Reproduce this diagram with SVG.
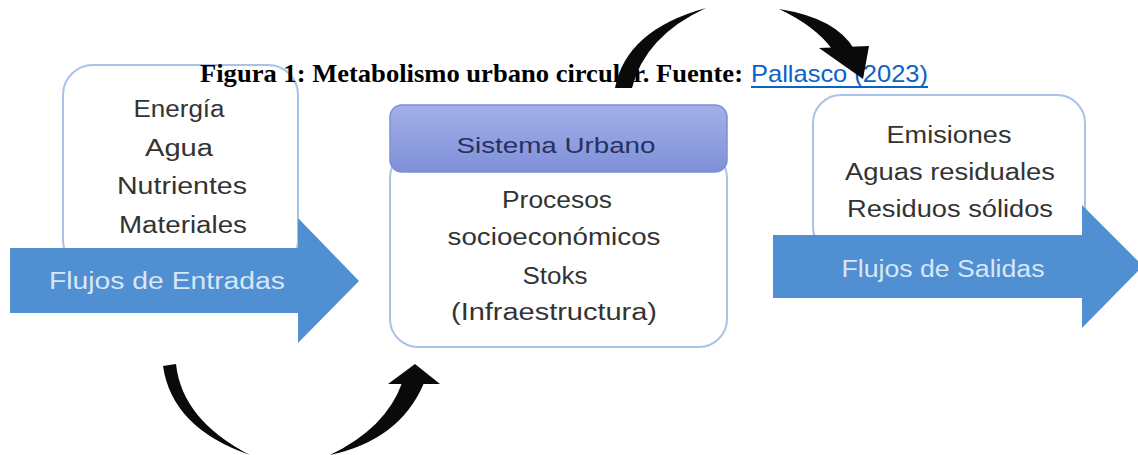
<svg xmlns="http://www.w3.org/2000/svg" width="1138" height="455" viewBox="0 0 1138 455">
<defs>
<linearGradient id="hdr" x1="0" y1="0" x2="0" y2="1">
<stop offset="0" stop-color="#a3b0ea"/>
<stop offset="1" stop-color="#7f90d8"/>
</linearGradient>
</defs>
<style>
.box{fill:#ffffff;stroke:#a9c3e6;stroke-width:2}
.flow{fill:#4f8fd2}
.t{font-family:"Liberation Sans",Arial,sans-serif;font-size:23px;fill:#333333;text-anchor:middle}
.ft{font-family:"Liberation Sans",Arial,sans-serif;font-size:23px;fill:#d9e6f6;text-anchor:middle}
.hd{font-family:"Liberation Sans",Arial,sans-serif;font-size:22px;fill:#27315f;text-anchor:middle}
.ttl{font-family:"Liberation Serif","Times New Roman",serif;font-weight:bold;font-size:26px;fill:#000}
.lnk{font-family:"Liberation Sans",Arial,sans-serif;font-size:24px;fill:#0b63c4}
.blk{fill:#0a0a0a}
</style>
<rect width="1138" height="455" fill="#ffffff"/>

<g id="node-inputs">
<rect class="box" x="63" y="65" width="235" height="205" rx="30"/>
<text class="t" x="179" y="117" textLength="91" lengthAdjust="spacingAndGlyphs">Energía</text>
<text class="t" x="179" y="156" textLength="68" lengthAdjust="spacingAndGlyphs">Agua</text>
<text class="t" x="182" y="194" textLength="130" lengthAdjust="spacingAndGlyphs">Nutrientes</text>
<text class="t" x="183" y="233" textLength="128" lengthAdjust="spacingAndGlyphs">Materiales</text>
<polygon class="flow" points="10,248 298,248 298,218 359,281 298,343 298,313 10,313"/>
<text class="ft" x="167" y="289" textLength="236" lengthAdjust="spacingAndGlyphs">Flujos de Entradas</text>
</g>

<g id="node-system">
<rect class="box" x="390" y="150" width="337" height="197" rx="28"/>
<rect x="390" y="105" width="337" height="67" rx="12" fill="url(#hdr)" stroke="#7d8ed2" stroke-width="1.5"/>
<text class="hd" x="556" y="153" textLength="199" lengthAdjust="spacingAndGlyphs">Sistema Urbano</text>
<text class="t" x="557" y="208" textLength="110" lengthAdjust="spacingAndGlyphs">Procesos</text>
<text class="t" x="554" y="245" textLength="213" lengthAdjust="spacingAndGlyphs">socioeconómicos</text>
<text class="t" x="555" y="284" textLength="65" lengthAdjust="spacingAndGlyphs">Stoks</text>
<text class="t" x="554" y="320" textLength="206" lengthAdjust="spacingAndGlyphs">(Infraestructura)</text>
</g>

<g id="node-outputs">
<rect class="box" x="813" y="95" width="272" height="160" rx="28"/>
<text class="t" x="949" y="143" textLength="125" lengthAdjust="spacingAndGlyphs">Emisiones</text>
<text class="t" x="950" y="180" textLength="210" lengthAdjust="spacingAndGlyphs">Aguas residuales</text>
<text class="t" x="950" y="217" textLength="206" lengthAdjust="spacingAndGlyphs">Residuos sólidos</text>
<polygon class="flow" points="773,235 1082,235 1082,205 1143,266 1082,328 1082,298 773,298"/>
<text class="ft" x="943" y="277" textLength="203" lengthAdjust="spacingAndGlyphs">Flujos de Salidas</text>
</g>

<g id="title">
<text class="ttl" x="200" y="82" textLength="543" lengthAdjust="spacingAndGlyphs">Figura 1: Metabolismo urbano circular. Fuente:</text>
<text class="lnk" x="751" y="82" textLength="177" lengthAdjust="spacingAndGlyphs">Pallasco (2023)</text>
<rect x="751" y="86" width="177" height="2" fill="#0b63c4"/>
</g>

<g id="connectors">
<path class="blk" d="M615,88 Q626,30 706,8 Q645,36 632,88 Z"/>
<path class="blk" d="M779,9 Q836,18 854,49 L832,49 Q815,26 779,9 Z"/>
<polygon class="blk" points="819,48 869,46 863,79"/>
<path class="blk" d="M163,366 Q172,428 250,455 Q182,420 176,364 Z"/>
<path class="blk" d="M330,455 Q400,440 424,383 L402,383 Q386,428 330,455 Z"/>
<polygon class="blk" points="388,384 415,364 440,384"/>
</g>
</svg>
